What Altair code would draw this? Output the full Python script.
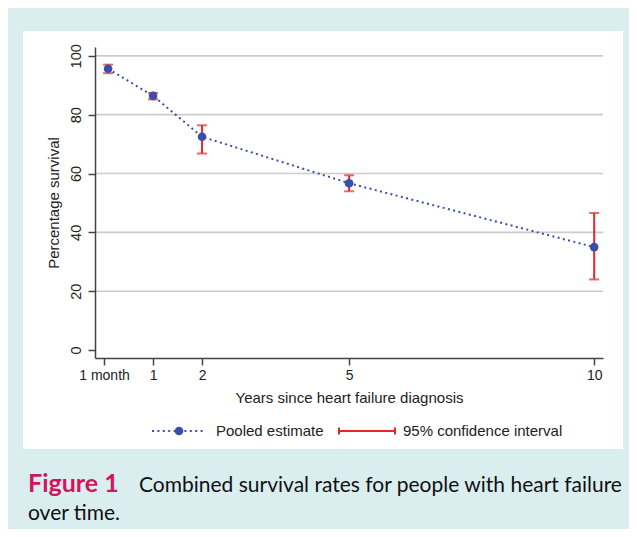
import altair as alt
import pandas as pd

# ---- data ----
years = [1/12, 1, 2, 5, 10]
estimate = [95.6, 86.4, 72.5, 56.7, 35.0]
ci_low = [94.1, 85.2, 66.8, 54.0, 24.0]
ci_high = [97.0, 87.4, 76.4, 59.4, 46.6]

x_ticks = [0, 1, 2, 5, 10]
y_ticks = [0, 20, 40, 60, 80, 100]
grid_vals = [20, 40, 60, 80, 100]

x_title = "Years since heart failure diagnosis"
y_title = "Percentage survival"
legend_labels = ["Pooled estimate", "95% confidence interval"]
caption_bold = "Figure 1"
caption_line1 = "Combined survival rates for people with heart failure"
caption_line2 = "over time."

BLUE = "#3a50a8"
RED = "#e8262c"
BG = "#daeef0"
FONT = "Liberation Sans"

W, H = 508, 311

df = pd.DataFrame({"year": years, "est": estimate, "lo": ci_low, "hi": ci_high})
grid_df = pd.DataFrame({"g": grid_vals})
one = pd.DataFrame({"a": [0]})

xscale = alt.Scale(domain=[-0.184, 10.18], nice=False, zero=False)
yscale = alt.Scale(domain=[-2.7, 103], nice=False, zero=False)

x_axis = alt.Axis(
    values=x_ticks, grid=False, title=x_title, zindex=2,
    labelExpr="datum.value == 0 ? '1 month' : datum.label",
    labelFont=FONT, labelFontSize=14, labelColor="#222", labelPadding=3,
    titleFont=FONT, titleFontSize=15, titleFontWeight="normal", titleColor="#222", titlePadding=8,
    domainColor="#444", domainWidth=1.5, tickColor="#444", tickWidth=1.5, tickSize=7,
)
y_axis = alt.Axis(
    values=y_ticks, grid=False, title=y_title, zindex=2,
    labelAngle=270, labelAlign="center", labelBaseline="bottom",
    labelFont=FONT, labelFontSize=14.5, labelColor="#222", labelPadding=5,
    titleFont=FONT, titleFontSize=15, titleFontWeight="normal", titleColor="#222", titlePadding=7,
    domainColor="#444", domainWidth=1.5, tickColor="#444", tickWidth=1.5, tickSize=7,
)

panel = alt.Chart(one).mark_rect(color="white").encode(
    x=alt.value(-72), x2=alt.value(528), y=alt.value(-16), y2=alt.value(402)
)

grid = alt.Chart(grid_df).mark_rule(color="#cccccc", strokeWidth=1.6).encode(
    y=alt.Y("g:Q", scale=yscale, axis=y_axis),
    x=alt.value(0), x2=alt.value(W),
)

ci = alt.Chart(df).mark_rule(color=RED, strokeWidth=2).encode(
    x=alt.X("year:Q", scale=xscale, axis=x_axis),
    y=alt.Y("lo:Q", scale=yscale),
    y2="hi:Q",
)
cap_lo = alt.Chart(df).mark_tick(color=RED, orient="horizontal", size=10, thickness=2).encode(
    x=alt.X("year:Q", scale=xscale), y=alt.Y("lo:Q", scale=yscale)
)
cap_hi = alt.Chart(df).mark_tick(color=RED, orient="horizontal", size=10, thickness=2).encode(
    x=alt.X("year:Q", scale=xscale), y=alt.Y("hi:Q", scale=yscale)
)

line = alt.Chart(df).mark_line(color=BLUE, strokeWidth=2, strokeDash=[2, 3.4]).encode(
    x=alt.X("year:Q", scale=xscale), y=alt.Y("est:Q", scale=yscale)
)
pts = alt.Chart(df).mark_point(filled=True, shape="circle", color=BLUE, size=75, opacity=1).encode(
    x=alt.X("year:Q", scale=xscale), y=alt.Y("est:Q", scale=yscale)
)

# ---- manual legend ----
LY = 384
leg_line = alt.Chart(one).mark_rule(color=BLUE, strokeWidth=2, strokeDash=[2, 3.4]).encode(
    x=alt.value(57), x2=alt.value(110), y=alt.value(LY)
)
leg_pt = alt.Chart(one).mark_point(filled=True, shape="circle", color=BLUE, size=75, opacity=1).encode(
    x=alt.value(84), y=alt.value(LY)
)
leg_ci = alt.Chart(one).mark_rule(color=RED, strokeWidth=2).encode(
    x=alt.value(244), x2=alt.value(300), y=alt.value(LY)
)
leg_cap1 = alt.Chart(one).mark_rule(color=RED, strokeWidth=2).encode(
    x=alt.value(244), y=alt.value(LY - 3.5), y2=alt.value(LY + 3.5)
)
leg_cap2 = alt.Chart(one).mark_rule(color=RED, strokeWidth=2).encode(
    x=alt.value(300), y=alt.value(LY - 3.5), y2=alt.value(LY + 3.5)
)
leg_t1 = alt.Chart(one).mark_text(align="left", baseline="middle", font=FONT, fontSize=15, color="#222",
                                  text=legend_labels[0]).encode(x=alt.value(121), y=alt.value(LY))
leg_t2 = alt.Chart(one).mark_text(align="left", baseline="middle", font=FONT, fontSize=15, color="#222",
                                  text=legend_labels[1]).encode(x=alt.value(308), y=alt.value(LY))

# ---- caption ----
cap_a = alt.Chart(one).mark_text(align="left", baseline="alphabetic", font="Lato", fontSize=25,
                                 fontWeight="bold", color="#d4145a", text=caption_bold).encode(
    x=alt.value(-67), y=alt.value(445))
cap_b = alt.Chart(one).mark_text(align="left", baseline="alphabetic", font="Lato", fontSize=21,
                                 color="#111", text=caption_line1).encode(
    x=alt.value(44), y=alt.value(445))
cap_c = alt.Chart(one).mark_text(align="left", baseline="alphabetic", font="Lato", fontSize=21,
                                 color="#111", text=caption_line2).encode(
    x=alt.value(-67), y=alt.value(473))

chart = alt.layer(
    panel, grid, ci, cap_lo, cap_hi, line, pts,
    leg_line, leg_pt, leg_ci, leg_cap1, leg_cap2, leg_t1, leg_t2,
    cap_a, cap_b, cap_c,
).properties(
    width=W, height=H,
    autosize=alt.AutoSizeParams(type="none"),
    padding={"left": 87, "top": 39, "right": 26, "bottom": 171},
    background=BG,
).configure_view(stroke=None)

chart.save("out.html", embed_options={"renderer": "svg", "actions": False})
